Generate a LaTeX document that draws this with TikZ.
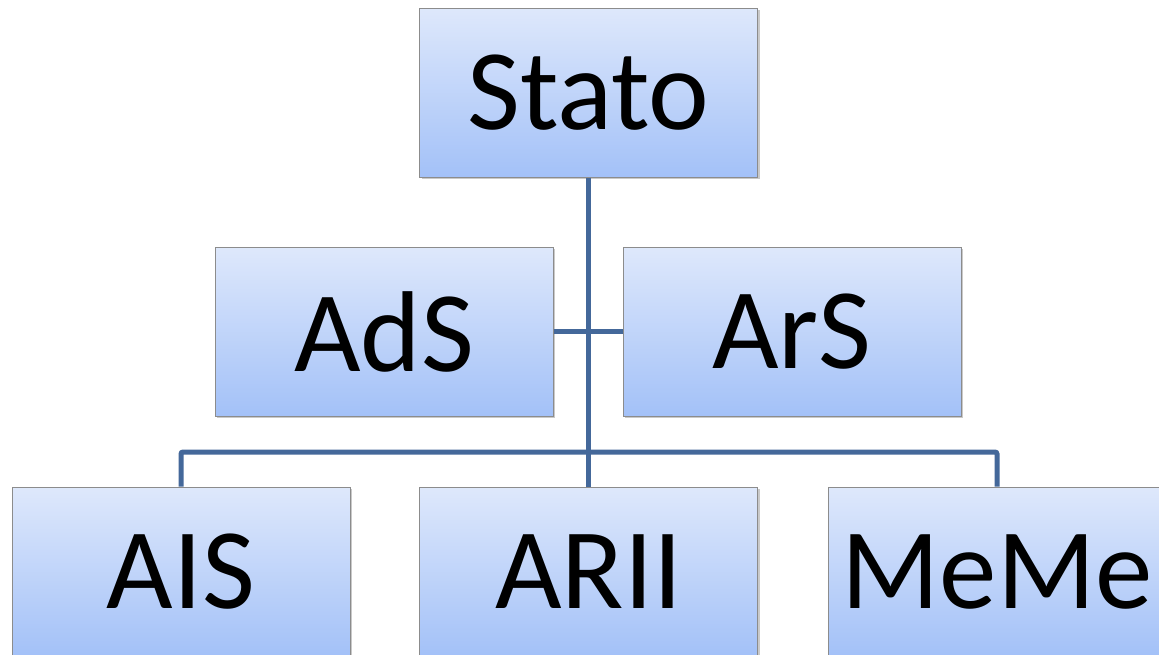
\documentclass[tikz,border=0pt]{standalone}
\usepackage{fontspec}
\setmainfont{Carlito}
\usetikzlibrary{shadows}
\definecolor{boxtop}{HTML}{DEE8FB}
\definecolor{boxbot}{HTML}{A3C1F8}
\definecolor{boxline}{HTML}{8C8C8C}
\definecolor{wire}{HTML}{44689A}
\tikzset{
  orgbox/.style={rectangle, minimum width=338pt, minimum height=169pt, inner sep=0pt,
    top color=boxtop, bottom color=boxbot, draw=boxline, line width=1pt,
    drop shadow={shadow xshift=2pt, shadow yshift=-2pt, opacity=0.35, fill=black!60},
    font=\fontsize{115}{115}\selectfont, text=black},
  link/.style={draw=wire, line width=5pt, rounded corners=2pt}
}
\begin{document}
\begin{tikzpicture}[x=1pt, y=-1pt]
  \useasboundingbox (0,0) rectangle (1159,654);
  \fill[white] (0,0) rectangle (1159,654);
  % junction points of the tree
  \coordinate (hub) at (588,452);
  \coordinate (mid) at (588,331);
  % boxes
  \node[orgbox] (stato) at (588.5,92.5) {Stato};
  \node[orgbox] (ads)   at (384,331.5) {AdS};
  \node[orgbox] (ars)   at (792,331.5) {ArS};
  \node[orgbox] (ais)   at (181,571.5) {AIS};
  \node[orgbox] (arii)  at (588.5,571.5) {ARII};
  \node[orgbox] (meme)  at (997,571.5) {MeMe};
  % connectors
  \draw[link] (stato.south) -- (arii.north);
  \draw[link] (ads.east |- mid) -- (ars.west |- mid);
  \draw[link] (ais.north) -- (ais.north |- hub) -- (meme.north |- hub) -- (meme.north);
\end{tikzpicture}
\end{document}
